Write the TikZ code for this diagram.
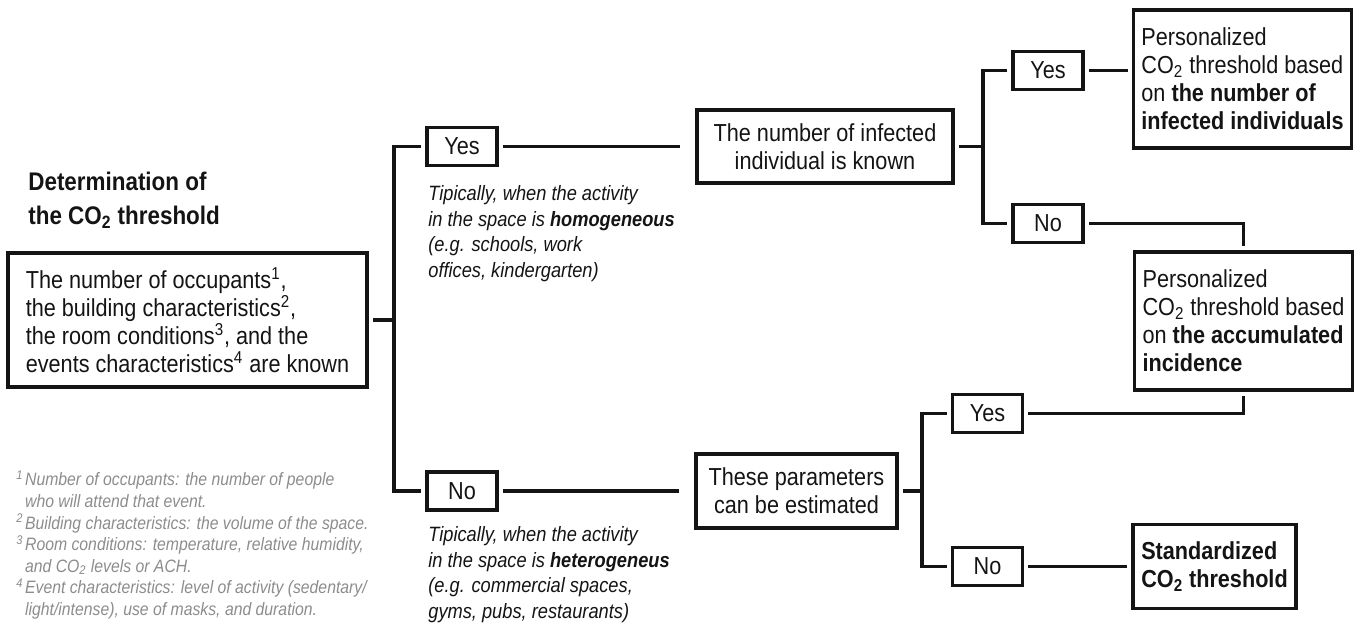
\documentclass[tikz,border=0pt]{standalone}
\usepackage{fontspec}
\setmainfont{Liberation Sans}[FakeStretch=0.88]
\usetikzlibrary{positioning}
\definecolor{inkblack}{HTML}{141414}
\definecolor{notegray}{HTML}{8C8C8C}

\newcommand{\cotwo}{CO\textsubscript{2}}
\newcommand{\fnmark}[1]{\makebox[5pt][l]{\textsuperscript{#1}}}
\newcommand{\fnskip}{\hspace*{5pt}}

\tikzset{
  box/.style={draw=inkblack, line width=1.9pt, outer sep=3.4pt, inner sep=0pt,
    text=inkblack, font=\fontsize{14}{15.9}\selectfont},
  answer/.style={box, minimum width=14mm, minimum height=7.6mm},
  result/.style={box, align=left, minimum width=43.6mm, minimum height=27.6mm},
  link/.style={draw=inkblack, line width=1.9pt},
  heading/.style={anchor=west, align=left, inner sep=0pt, text=inkblack,
    font=\fontsize{14.5}{19.3}\selectfont\bfseries},
  note/.style={anchor=west, align=left, inner sep=0pt, text=inkblack,
    font=\fontsize{11.8}{14.5}\selectfont\itshape},
  footnote/.style={note, text=notegray, font=\fontsize{10.2}{12.3}\selectfont\itshape}
}

\begin{document}
\begin{tikzpicture}[x=0.2mm, y=-0.2mm]
  \useasboundingbox (0,0) rectangle (1358,623);

  % Title and starting condition
  \node[heading] (title) at (28,200) {Determination of\\the \cotwo{} threshold};
  \node[box, align=left, minimum width=71.8mm, minimum height=26.8mm] (known) at (187.5,320)
    {The number of occupants\textsuperscript{1},\\the building characteristics\textsuperscript{2},\\the room conditions\textsuperscript{3}, and the\\events characteristics\textsuperscript{4} are known};

  % First split
  \coordinate (split1) at (394,320);
  \node[answer] (yes1) at (462,146.5) {Yes};
  \node[answer] (no1) at (462,491) {No};
  \draw[link] (known) -- (split1);
  \draw[link] (yes1) -| (split1) |- (no1);

  % Notes under the answers
  \node[note] (homnote) at (428,233.5)
    {Tipically, when the activity\\in the space is \textbf{homogeneous}\\(e.g. schools, work\\offices, kindergarten)};
  \node[note] (hetnote) at (428,574.5)
    {Tipically, when the activity\\in the space is \textbf{heterogeneus}\\(e.g. commercial spaces,\\gyms, pubs, restaurants)};

  % Second level
  \node[box, align=center, minimum width=51.2mm, minimum height=14.6mm] (infected) at (825,146.5)
    {The number of infected\\individual is known};
  \node[box, align=center, minimum width=40.2mm, minimum height=14.8mm] (estimated) at (796.5,491)
    {These parameters\\can be estimated};
  \draw[link, shorten >=2.2mm] (yes1) -- (infected);
  \draw[link, shorten >=2.2mm] (no1) -- (estimated);

  % Upper branch
  \coordinate (split2) at (983,146.5);
  \node[answer] (yes2) at (1048,70.5) {Yes};
  \node[answer] (no2) at (1048,223.5) {No};
  \draw[link] (infected) -- (split2);
  \draw[link] (yes2) -| (split2) |- (no2);

  % Lower branch
  \coordinate (split3) at (922,491);
  \node[answer] (yes3) at (987.5,413.5) {Yes};
  \node[answer] (no3) at (987.5,566.5) {No};
  \draw[link] (estimated) -- (split3);
  \draw[link] (yes3) -| (split3) |- (no3);

  % Outcomes
  \node[result] (bynumber) at (1242.5,79)
    {Personalized\\\cotwo{} threshold based\\on \textbf{the number of}\\\textbf{infected individuals}};
  \node[result] (byincidence) at (1243.5,321)
    {Personalized\\\cotwo{} threshold based\\on \textbf{the accumulated}\\\textbf{incidence}};
  \node[box, align=left, font=\fontsize{14}{15.9}\selectfont\bfseries,
    minimum width=32.6mm, minimum height=16.8mm] (standard) at (1214.5,566.5)
    {Standardized\\\cotwo{} threshold};
  \draw[link] (yes2) -- (yes2 -| bynumber.west);
  \draw[link] (no2) -| (byincidence);
  \draw[link] (yes3) -| (byincidence);
  \draw[link] (no3) -- (standard);

  % Footnotes
  \node[footnote] (notes) at (16,545)
    {\fnmark{1}Number of occupants: the number of people\\
     \fnskip who will attend that event.\\
     \fnmark{2}Building characteristics: the volume of the space.\\
     \fnmark{3}Room conditions: temperature, relative humidity,\\
     \fnskip and \cotwo{} levels or ACH.\\
     \fnmark{4}Event characteristics: level of activity (sedentary/\\
     \fnskip light/intense), use of masks, and duration.};
\end{tikzpicture}
\end{document}
